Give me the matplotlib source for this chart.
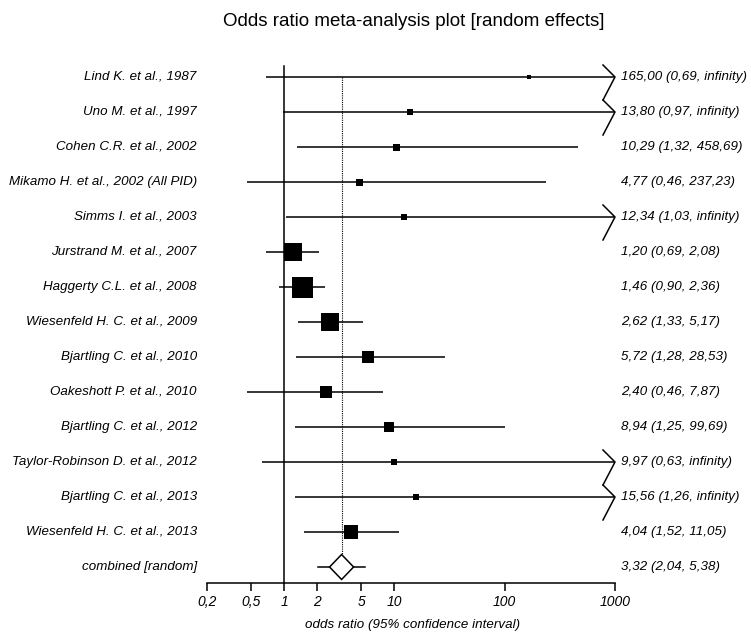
import matplotlib
matplotlib.use('Agg')
import matplotlib.pyplot as plt
from matplotlib.patches import Polygon
import numpy as np

plt.rcParams['font.family'] = ['Liberation Sans', 'DejaVu Sans']

studies = ['Lind K. et al., 1987', 'Uno M. et al., 1997', 'Cohen C.R. et al., 2002',
           'Mikamo H. et al., 2002 (All PID)', 'Simms I. et al., 2003',
           'Jurstrand M. et al., 2007', 'Haggerty C.L. et al., 2008',
           'Wiesenfeld H. C. et al., 2009', 'Bjartling C. et al., 2010',
           'Oakeshott P. et al., 2010', 'Bjartling C. et al., 2012',
           'Taylor-Robinson D. et al., 2012', 'Bjartling C. et al., 2013',
           'Wiesenfeld H. C. et al., 2013']
odds = [165.00, 13.80, 10.29, 4.77, 12.34, 1.20, 1.46, 2.62, 5.72, 2.40, 8.94, 9.97, 15.56, 4.04]
lo = [0.69, 0.97, 1.32, 0.46, 1.03, 0.69, 0.90, 1.33, 1.28, 0.46, 1.25, 0.63, 1.26, 1.52]
hi = [np.inf, np.inf, 458.69, 237.23, np.inf, 2.08, 2.36, 5.17, 28.53, 7.87, 99.69, np.inf, np.inf, 11.05]
weights_px = [3.5, 6.5, 7, 7, 6, 18, 21, 18, 12, 12, 10, 6, 6.5, 14]  # box side
comb_label = 'combined [random]'
comb = (3.32, 2.04, 5.38)
ticks = [0.2, 0.5, 1, 2, 5, 10, 100, 1000]
tick_labels = ['0,2', '0,5', '1', '2', '5', '10', '100', '1000']

W, H = 751, 636
fs = 9.6
fig = plt.figure(figsize=(W / 100, H / 100), dpi=100)
# axes: x 207..615 px, y 60..583 px, row spacing 35 px starting at 77
ax = fig.add_axes([207 / W, 1 - 583 / H, 408 / W, 523 / H])
ax.set_xscale('log')
ax.set_xlim(0.2, 1000)
y_bot = (583 - 77) / 35
y_top = (60 - 77) / 35
ax.set_ylim(y_bot, y_top)

px_dec = 408 / np.log10(5000)  # pixels per decade
def xshift(x, px):
    return x * 10 ** (px / px_dec)

lw = 1.1
n = len(studies)
for i in range(n):
    upper = hi[i] if np.isfinite(hi[i]) else 1000
    ax.plot([lo[i], upper], [i, i], color='black', lw=lw, solid_capstyle='butt', zorder=2)
    ax.plot(odds[i], i, marker='s', color='black', ms=weights_px[i] * 0.72, mew=0, zorder=3)
    if not np.isfinite(hi[i]):
        xa = xshift(1000, -12)
        ax.plot([xa, 1000, xa], [i - 12 / 35, i, i + 23 / 35], color='black', lw=lw,
                clip_on=False, zorder=2)
    txt_hi = 'infinity' if not np.isfinite(hi[i]) else f'{hi[i]:.2f}'.replace('.', ',')
    rtxt = f'{odds[i]:.2f} ({lo[i]:.2f}, '.replace('.', ',') + txt_hi + ')'
    ax.text(1.015, i, rtxt, transform=ax.get_yaxis_transform(), ha='left', va='center',
            fontsize=fs, style='italic')
    ax.text(-0.025, i, studies[i], transform=ax.get_yaxis_transform(), ha='right',
            va='center', fontsize=fs, style='italic')

# combined row
yc = n
ax.plot([comb[1], comb[2]], [yc, yc], color='black', lw=lw, zorder=2)
dh = 12.5 / 35
dw = 12
diamond = Polygon([[xshift(comb[0], -dw), yc], [comb[0], yc - dh],
                   [xshift(comb[0], dw), yc], [comb[0], yc + dh]],
                  closed=True, facecolor='white', edgecolor='black', lw=lw, zorder=4)
ax.add_patch(diamond)
ax.plot([comb[0], comb[0]], [0, yc - dh], color='black', lw=0.8, ls=(0, (1, 1)), zorder=1)
ax.text(1.015, yc, f'{comb[0]:.2f} ({comb[1]:.2f}, {comb[2]:.2f})'.replace('.', ','),
        transform=ax.get_yaxis_transform(), ha='left', va='center', fontsize=fs, style='italic')
ax.text(-0.025, yc, comb_label, transform=ax.get_yaxis_transform(), ha='right',
        va='center', fontsize=fs, style='italic')

# line of no effect
ax.plot([1, 1], [(66 - 77) / 35, y_bot], color='black', lw=lw, clip_on=False, zorder=2)

for s in ['top', 'right', 'left']:
    ax.spines[s].set_visible(False)
ax.spines['bottom'].set_linewidth(lw)
ax.set_yticks([])
ax.set_xticks(ticks)
ax.set_xticklabels(tick_labels, fontsize=10, style='italic')
ax.minorticks_off()
ax.tick_params(axis='x', direction='out', length=6, width=lw, pad=3)

fig.text(413 / W, 1 - 625 / H, 'odds ratio (95% confidence interval)',
         ha='center', va='center', fontsize=fs, style='italic')
fig.text(414 / W, 1 - 22 / H, 'Odds ratio meta-analysis plot [random effects]',
         ha='center', va='center', fontsize=13.5)

fig.savefig('out.png', dpi=100)
